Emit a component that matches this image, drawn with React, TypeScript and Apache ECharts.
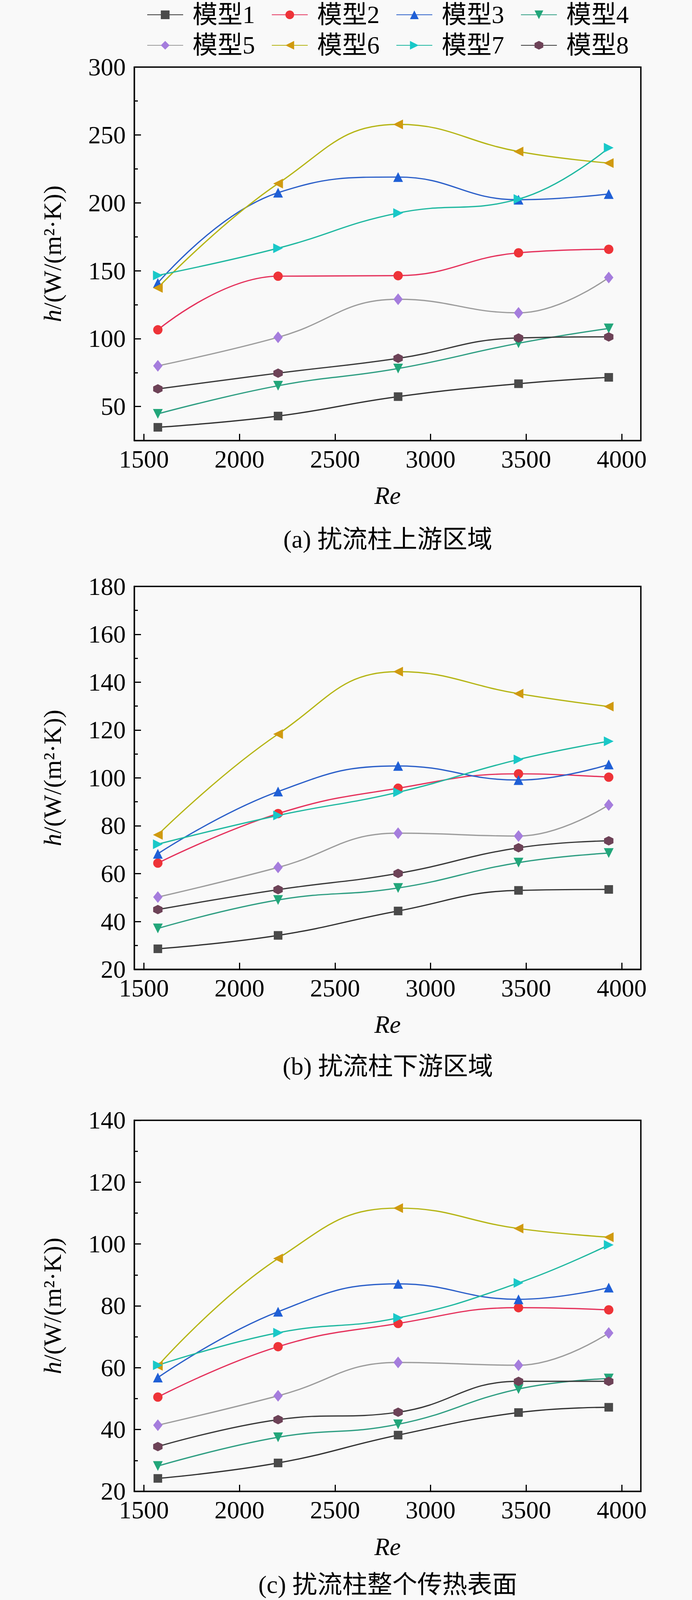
import React, { useEffect, useRef } from "react";
import * as echarts from "echarts";

// Reynolds numbers (x values)
const reValues = [1573, 2202, 2830, 3460, 3932];
const modelNames = ["模型1", "模型2", "模型3", "模型4", "模型5", "模型6", "模型7", "模型8"];
const xTicks = [1500, 2000, 2500, 3000, 3500, 4000];

// (a) upstream region, one row per model
const upstreamH = [
  [34.7, 43.0, 57.3, 66.8, 71.5],
  [106.5, 146.0, 146.4, 163.2, 165.8],
  [141.0, 207.5, 219.0, 202.3, 206.5],
  [44.6, 65.3, 78.0, 96.6, 107.5],
  [80.0, 101.0, 129.0, 119.0, 145.0],
  [137.4, 214.2, 257.8, 237.8, 229.3],
  [146.6, 166.6, 192.5, 202.8, 240.6],
  [63.0, 74.6, 85.5, 100.5, 101.3],
];
const upstreamTicks = [50, 100, 150, 200, 250, 300];
const upstreamMinor = [75, 125, 175, 225, 275];

// (b) downstream region
const downstreamH = [
  [28.6, 34.2, 44.4, 53.0, 53.4],
  [64.4, 85.1, 95.7, 101.7, 100.3],
  [68.3, 94.3, 105.0, 99.1, 105.6],
  [37.1, 49.0, 54.0, 64.6, 68.6],
  [50.2, 62.6, 76.9, 75.7, 88.7],
  [76.2, 118.3, 144.4, 135.2, 129.8],
  [72.3, 84.3, 94.0, 107.7, 115.3],
  [45.0, 53.3, 60.1, 70.8, 73.7],
];

// (c) whole heat-transfer surface
const wholeH = [
  [24.2, 29.2, 38.2, 45.5, 47.2],
  [50.5, 66.8, 74.3, 79.4, 78.7],
  [56.8, 78.1, 87.1, 82.1, 85.9],
  [28.2, 37.5, 41.7, 53.1, 56.5],
  [41.4, 50.9, 61.7, 60.8, 71.2],
  [60.6, 95.3, 111.6, 105.0, 102.2],
  [60.8, 71.3, 76.1, 87.4, 99.7],
  [34.5, 43.2, 45.6, 55.6, 55.6],
];

const captions = ["(a) 扰流柱上游区域", "(b) 扰流柱下游区域", "(c) 扰流柱整个传热表面"];

const markerColors = ["#4a4a4a", "#ee3338", "#1f5fd6", "#22a67a", "#a57ddd", "#d09a10", "#19c8c8", "#6d4257"];
const lineColors = ["#333333", "#e5325c", "#2b5fc9", "#2e9e82", "#9c9c9c", "#b5b515", "#1fb8a0", "#3a3a3a"];
const hexPath = "path://M0,-1 L0.866,-0.5 L0.866,0.5 L0,1 L-0.866,0.5 L-0.866,-0.5 Z";
const symbols = ["rect", "circle", "triangle", "triangle", "diamond", "triangle", "triangle", hexPath];
const symbolRotates = [0, 0, 0, 180, 0, 90, -90, 0];
const symbolSizes: any[] = [22, 24, 25, 25, [24, 30], 25, 25, 24];

const FONT = "Liberation Serif, Times New Roman, Noto Sans CJK SC, serif";
const FS = 64;

const GRIDS = [
  { top: 176, height: 980 },
  { top: 1539, height: 1005 },
  { top: 2940, height: 974 },
];
const CAPTION_Y = [1415, 2798, 4158];

export default function App() {
  const ref = useRef<HTMLDivElement>(null);
  const H = Math.min(4199, (typeof window !== "undefined" && window.innerHeight) || 4199);
  useEffect(() => {
    document.body.style.margin = "0";
    document.body.style.background = "#f9f9f9";
    const sy = H / 4199;
    const chart = echarts.init(ref.current!, null, { renderer: "svg" });

    const axisLine = { show: true, lineStyle: { color: "#000", width: 3.5 } };
    const labelStyle = { color: "#000", fontFamily: FONT, fontSize: FS };

    const xAxes = GRIDS.map((_, i) => ({
      type: "value",
      gridIndex: i,
      min: 1450,
      max: 4100,
      name: "Re",
      nameLocation: "middle",
      nameGap: 112 * sy,
      nameTextStyle: { ...labelStyle, fontStyle: "italic" },
      axisLine,
      splitLine: { show: false },
      axisTick: { show: true, inside: true, length: 17, lineStyle: { color: "#000", width: 3 }, customValues: xTicks },
      axisLabel: { ...labelStyle, margin: 16, customValues: xTicks, formatter: (v: number) => String(v) },
    }));

    const yName = "{i|h}{n|/(W/(m²·K))}";
    const yNameStyle = {
      ...labelStyle,
      rich: {
        i: { fontFamily: FONT, fontSize: FS, fontStyle: "italic", color: "#000" },
        n: { fontFamily: FONT, fontSize: FS, color: "#000" },
      },
    };
    const yBase = (i: number) => ({
      type: "value",
      gridIndex: i,
      name: yName,
      nameLocation: "middle",
      nameGap: 178,
      nameTextStyle: yNameStyle,
      axisLine,
      splitLine: { show: false },
    });
    const yAxes: any[] = [
      {
        ...yBase(0),
        min: 25,
        max: 300,
        axisTick: { show: true, inside: true, length: 17, lineStyle: { color: "#000", width: 3 }, customValues: upstreamTicks },
        axisLabel: { ...labelStyle, margin: 22, customValues: upstreamTicks },
      },
      {
        ...yBase(1),
        min: 20,
        max: 180,
        interval: 20,
        axisTick: { show: true, inside: true, length: 17, lineStyle: { color: "#000", width: 3 } },
        minorTick: { show: true, splitNumber: 2, length: 9, lineStyle: { color: "#000", width: 3 } },
        axisLabel: { ...labelStyle, margin: 22 },
      },
      {
        ...yBase(2),
        min: 20,
        max: 140,
        interval: 20,
        axisTick: { show: true, inside: true, length: 17, lineStyle: { color: "#000", width: 3 } },
        minorTick: { show: true, splitNumber: 2, length: 9, lineStyle: { color: "#000", width: 3 } },
        axisLabel: { ...labelStyle, margin: 22 },
      },
      {
        type: "value",
        gridIndex: 0,
        position: "left",
        min: 25,
        max: 300,
        axisLine: { show: false },
        splitLine: { show: false },
        axisLabel: { show: false },
        axisTick: { show: true, inside: true, length: 9, lineStyle: { color: "#000", width: 3 }, customValues: upstreamMinor },
      },
    ];

    const datasets = [upstreamH, downstreamH, wholeH];
    const series: any[] = [];
    datasets.forEach((rows, g) => {
      rows.forEach((vals, m) => {
        series.push({
          type: "line",
          name: modelNames[m],
          xAxisIndex: g,
          yAxisIndex: g,
          data: reValues.map((x, k) => [x, vals[k]]),
          smooth: 0.45,
          symbol: symbols[m],
          symbolSize: symbolSizes[m],
          symbolRotate: symbolRotates[m],
          showAllSymbol: true,
          lineStyle: { color: lineColors[m], width: 3.2 },
          itemStyle: { color: markerColors[m] },
          emphasis: { disabled: true },
        });
      });
    });

    const legendCommon = {
      orient: "horizontal",
      left: 376,
      padding: 0,
      itemWidth: 92,
      itemHeight: 28,
      itemGap: 42,
      textStyle: { color: "#000", fontFamily: FONT, fontSize: FS, padding: [0, 0, 0, 19] },
    };

    chart.setOption({
      animation: false,
      backgroundColor: "#f9f9f9",
      legend: [
        { ...legendCommon, top: 6 * sy, data: modelNames.slice(0, 4) },
        { ...legendCommon, top: 86 * sy, data: modelNames.slice(4, 8) },
      ],
      grid: GRIDS.map((g) => ({
        left: 344,
        width: 1297,
        top: g.top * sy,
        height: g.height * sy,
        show: true,
        borderColor: "#000",
        borderWidth: 3.5,
        backgroundColor: "transparent",
      })),
      xAxis: xAxes,
      yAxis: yAxes,
      series,
      graphic: captions.map((t, i) => ({
        type: "text",
        x: 993,
        y: Math.min(CAPTION_Y[i] * sy, H - 40),
        style: {
          text: t,
          fontFamily: FONT,
          fontSize: FS,
          fill: "#000",
          textAlign: "center",
          textVerticalAlign: "middle",
        },
      })),
    });
    return () => chart.dispose();
  }, []);
  return <div ref={ref} style={{ width: 1772, height: H }} />;
}
